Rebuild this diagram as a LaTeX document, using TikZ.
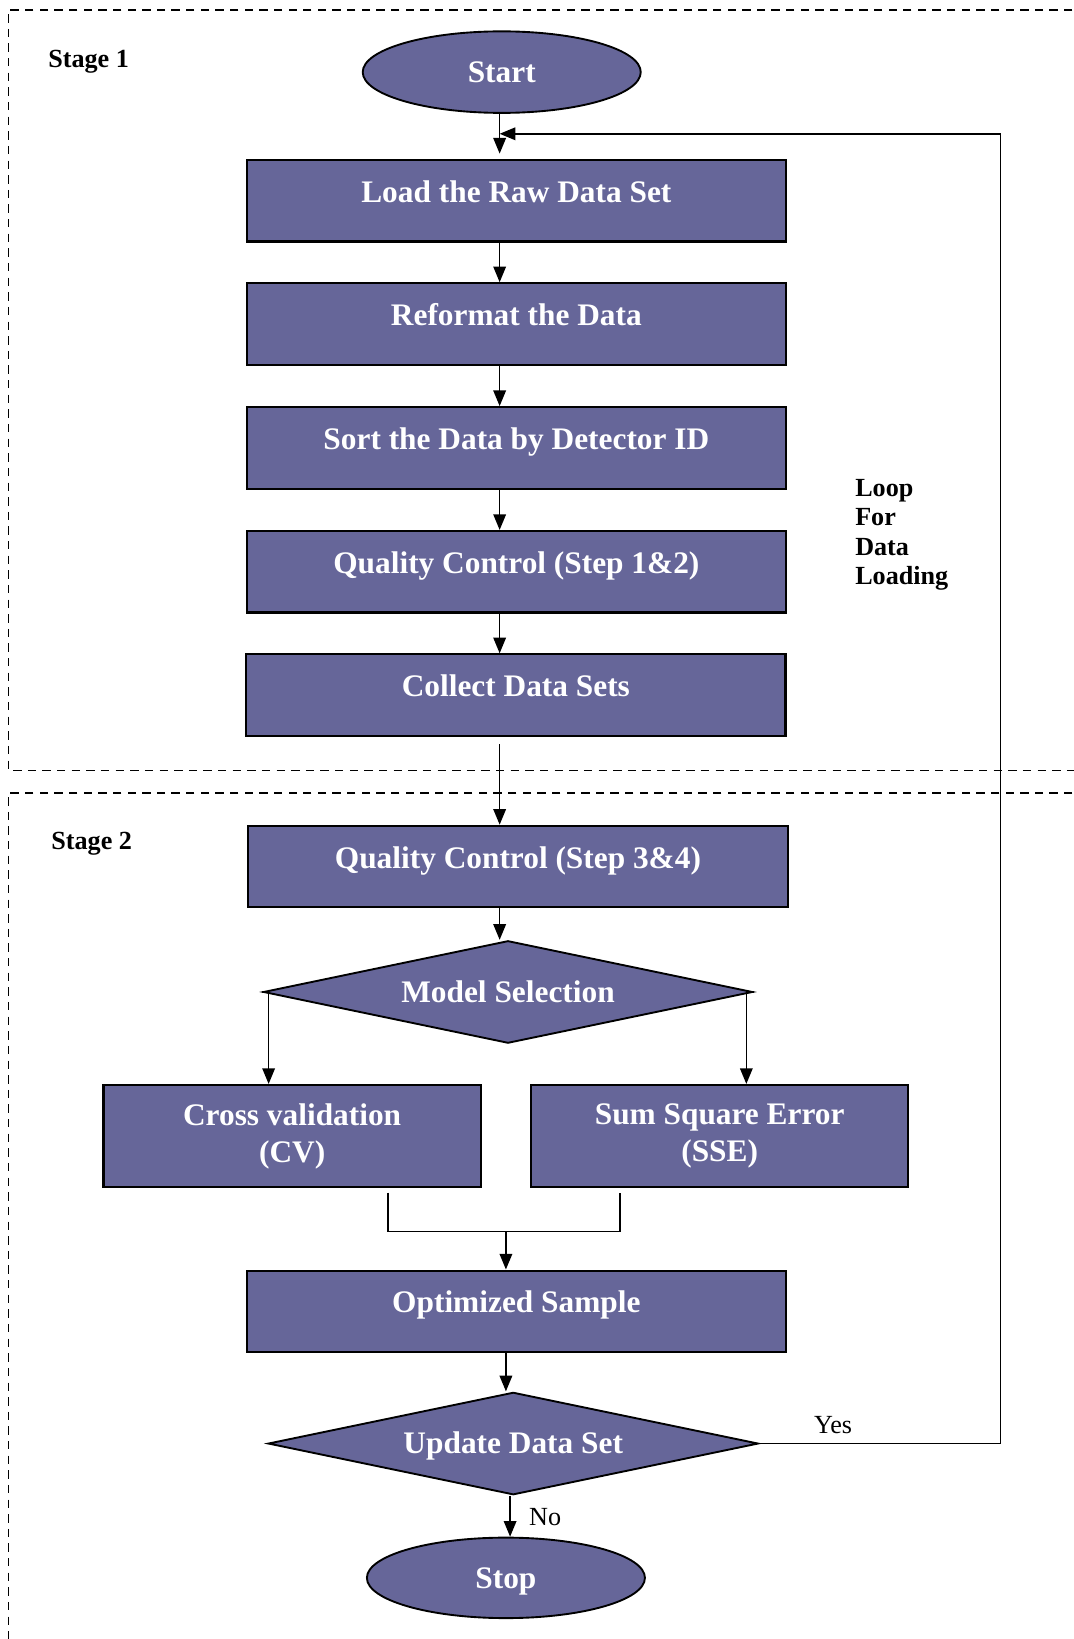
\documentclass[tikz,border=0pt]{standalone}
\usepackage{fontspec}
\setmainfont{Liberation Serif}
\usetikzlibrary{shapes.geometric,arrows.meta,calc}
\definecolor{boxfill}{RGB}{102,102,153}
\newcommand\myboxfont{\fontsize{30}{35}\selectfont\bfseries}
\newcommand\mystagefont{\fontsize{25}{28.3}\selectfont\bfseries}
\newcommand\mylblfont{\fontsize{25}{28}\selectfont}
\begin{document}
\begin{tikzpicture}[x=1pt,y=-1pt,
  every node/.style={inner sep=0pt},
  box/.style={rectangle,draw=black,line width=2pt,fill=boxfill,minimum width=516pt,minimum height=78pt,text=white,font=\myboxfont,text height=21pt,text depth=18pt},
  twobox/.style={rectangle,draw=black,line width=2pt,fill=boxfill,minimum width=361pt,minimum height=98pt,text=white,font=\myboxfont,align=center},
  oval/.style={ellipse,draw=black,line width=1.8pt,fill=boxfill,minimum width=266pt,minimum height=78pt,text=white,font=\myboxfont,text height=21pt,text depth=1.2pt},
  decision/.style={diamond,draw=black,line width=1.8pt,fill=boxfill,minimum width=468pt,minimum height=98pt,shape aspect=4.78,text=white,font=\myboxfont,text height=21pt,text depth=1.2pt},
  conn/.style={line width=1.6pt},
  arr/.style={line width=1.6pt,-{Triangle[length=15pt,width=12pt]}},
  stageline/.style={dash pattern=on 8pt off 6pt,line width=1.5pt},
  stagelbl/.style={font=\mystagefont},
  lbl/.style={font=\mylblfont},
]
\useasboundingbox (0,0) rectangle (1027,1568);

% stage frames
\draw[stageline] (1040,9.6) -- (8,9.6) -- (8,737) -- (1040,737);
\draw[stageline] (1040,758.6) -- (8,758.6) -- (8,1580);

\node[stagelbl,anchor=west] (s1) at (46,59.5) {Stage 1};
\node[stagelbl,anchor=west] (s2) at (49,807.5) {Stage 2};

% nodes
\node[oval] (start) at (480,69) {Start};
\node[box] (b1) at (494,192) {Load the Raw Data Set};
\node[box] (b2) at (494,310) {Reformat the Data};
\node[box] (b3) at (494,428.5) {Sort the Data by Detector ID};
\node[box] (b4) at (494,547) {Quality Control (Step 1\&2)};
\node[box] (b5) at (493.5,665) {Collect Data Sets};
\node[box] (b6) at (495.5,829) {Quality Control (Step 3\&4)};
\node[decision] (ms) at (486,949) {Model Selection};
\node[twobox] (cv) at (279.5,1087) {Cross validation\\(CV)};
\node[twobox] (sse) at (688.5,1087) {Sum Square Error\\(SSE)};
\node[box] (opt) at (494,1254.5) {Optimized Sample};
\node[decision,minimum width=469pt] (ud) at (491,1381) {Update Data Set};
\node[oval,minimum height=77pt] (stop) at (484,1509.5) {Stop};

\node[stagelbl,anchor=west,align=left] (loop) at (818,511.7) {Loop\\For\\Data\\Loading};
\node[lbl] (yes) at (797,1363) {Yes};
\node[lbl] (no) at (521.5,1451) {No};

% helper coordinates
\coordinate (ax) at (478,0);
\coordinate (lp) at (957,128);
\coordinate (mj) at (484,1178);
\coordinate (nx) at (488,0);

% connectors
\draw[arr,shorten >=5pt] (start.south -| ax) -- (b1.north -| ax);
\draw[arr] (b1.south -| ax) -- (b2.north -| ax);
\draw[arr] (b2.south -| ax) -- (b3.north -| ax);
\draw[arr] (b3.south -| ax) -- (b4.north -| ax);
\draw[arr] (b4.south -| ax) -- (b5.north -| ax);
\draw[arr] ($(b5.south -| ax)+(0,7)$) -- (b6.north -| ax);
\draw[arr] (b6.south -| ax) -- (ms.north -| ax);
\draw[arr] (ms.west) -| ($(cv.north)+(-22.5,0)$);
\draw[arr] (ms.east) -| ($(sse.north)+(25.5,0)$);
\draw[conn] ($(cv.south)+(91.5,4)$) |- (mj) -| ($(sse.south)+(-95.5,4)$);
\draw[arr] (mj) -- (opt.north -| mj);
\draw[arr] (opt.south -| mj) -- (ud.north -| mj);
\draw[arr] (ud.south -| nx) -- (stop.north -| nx);
\draw[arr] (ud.east) -| (lp) -- (lp -| ax);
\end{tikzpicture}
\end{document}
